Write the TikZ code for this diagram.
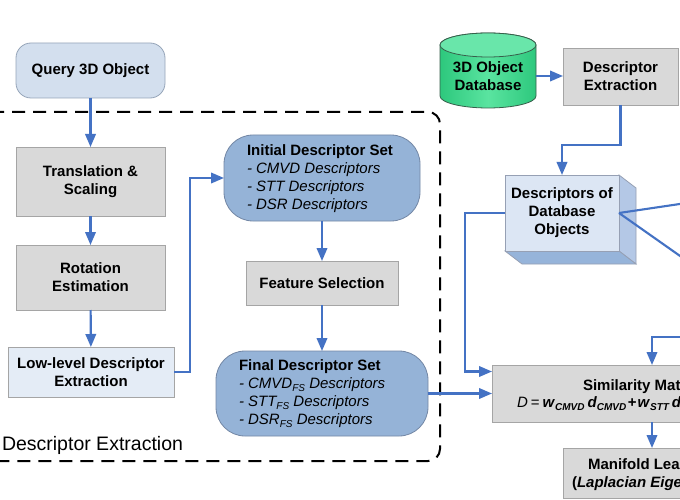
\documentclass[tikz,border=0pt]{standalone}
\usepackage{fontspec}
\setmainfont{Liberation Sans}
\usetikzlibrary{arrows.meta}
\newcommand\fsub[1]{\raisebox{-0.35ex}{\fontsize{10}{10}\selectfont #1}}
\definecolor{arrowblue}{RGB}{68,114,196}
\definecolor{grayfill}{RGB}{217,217,217}
\definecolor{grayline}{RGB}{165,165,165}
\definecolor{qfill}{RGB}{211,223,238}
\definecolor{qline}{RGB}{150,165,185}
\definecolor{llfill}{RGB}{228,236,246}
\definecolor{setfill}{RGB}{149,179,215}
\definecolor{setline}{RGB}{115,135,165}
\definecolor{dbfront}{RGB}{220,230,244}
\definecolor{dbside}{RGB}{180,200,230}
\definecolor{dbbottom}{RGB}{150,180,218}
\definecolor{dbline}{RGB}{150,160,180}
\definecolor{cyldark}{RGB}{45,200,125}
\definecolor{cyllight}{RGB}{90,228,160}
\definecolor{cyltop}{RGB}{105,230,170}
\definecolor{cylline}{RGB}{55,95,75}
\begin{document}
\begin{tikzpicture}[x=1pt,y=-1pt,
  every node/.style={inner sep=0pt, outer sep=0pt},
  bfont/.style={font=\bfseries\fontsize{15}{18}\selectfont},
  graybox/.style={draw=grayline, fill=grayfill, line width=0.8pt, align=center, bfont},
  qbox/.style={draw=qline, fill=qfill, line width=0.8pt, rounded corners=15pt, align=center, bfont},
  llbox/.style={draw=grayline, fill=llfill, line width=0.8pt, align=center, bfont},
  setbox/.style={draw=setline, fill=setfill, line width=0.8pt, rounded corners=29pt},
  settext/.style={align=left, font=\fontsize{15}{18}\selectfont},
  dbface/.style={draw=dbline, line width=0.8pt},
  flow/.style={draw=arrowblue, line width=2.1pt, -{Triangle[length=13pt,width=10.5pt]}},
  plainline/.style={draw=arrowblue, line width=2.1pt},
  region/.style={draw=black, line width=2pt, dash pattern=on 13pt off 8pt, rounded corners=12pt}
]
\useasboundingbox (0,0) rectangle (680,500);
\clip (0,0) rectangle (680,500);
\fill[white] (0,0) rectangle (680,500);

% dashed region
\draw[region] (-30,112) -- (440,112) -- (440,461) -- (-30,461);

% left column
\node[qbox, minimum width=149pt, minimum height=55pt] (q) at (90.5,70.5) {Query 3D Object};
\node[graybox, minimum width=149pt, minimum height=69pt] (ts) at (90.5,181.5) {Translation \&\\Scaling};
\node[graybox, minimum width=149pt, minimum height=65pt] (rot) at (90.5,277.5) {Rotation\\Estimation};
\node[llbox, minimum width=166pt, minimum height=50pt] (ll) at (91,372) {Low-level Descriptor\\Extraction};

% middle column
\node[setbox, minimum width=196pt, minimum height=86pt] (init) at (322,178) {};
\node[settext, anchor=west] (inittxt) at (247,178.5) {\textbf{Initial Descriptor Set}\\\textit{- CMVD Descriptors}\\\textit{- STT Descriptors}\\\textit{- DSR Descriptors}};
\node[graybox, minimum width=152pt, minimum height=44pt] (fs) at (322,283) {Feature Selection};
\node[setbox, minimum width=212pt, minimum height=85pt] (final) at (322,393.5) {};
\node[settext, anchor=west] (finaltxt) at (239,393.5) {\textbf{Final Descriptor Set}\\\textit{- CMVD\fsub{FS} Descriptors}\\\textit{- STT\fsub{FS} Descriptors}\\\textit{- DSR\fsub{FS} Descriptors}};

\node[anchor=base west, font=\fontsize{19.5}{22}\selectfont] (lbl) at (2,450) {Descriptor Extraction};

% database cylinder
\path[draw=cylline, line width=0.8pt, left color=cyldark, right color=cyldark, middle color=cyllight]
  (440,45) -- (440,96) arc[start angle=180, end angle=360, x radius=48pt, y radius=12pt]
  -- (536,45) arc[start angle=0, end angle=180, x radius=48pt, y radius=12pt] -- cycle;
\draw[draw=cylline, line width=0.8pt, fill=cyltop] (488,45) ellipse[x radius=48pt, y radius=12pt];
\node[bfont, align=center, minimum width=96pt, minimum height=50pt] (cyl) at (488,76) {3D Object\\Database};

\node[graybox, minimum width=115pt, minimum height=57pt] (descx) at (620.5,76.5) {Descriptor\\Extraction};

% 3D box of database descriptors
\fill[dbside, dbface] (619,175) -- (636,188) -- (636,264) -- (619,251) -- cycle;
\fill[dbbottom, dbface] (505,251) -- (619,251) -- (636,264) -- (522,264) -- cycle;
\node[dbface, fill=dbfront, bfont, align=center, minimum width=114pt, minimum height=76pt] (dbo) at (562,213) {Descriptors of\\Database\\Objects};

% right column (cut by the frame)
\node[graybox, minimum width=320pt, minimum height=57pt] (sim) at (652,393.5) {};
\node[anchor=base west, bfont] (simt) at (583,390) {Similarity Mat};
\node[anchor=base west, font=\fontsize{15}{18}\selectfont] (simf) at (517,407.5) {\textit{D}\kern3pt=\kern3pt\textbf{\textit{w}}\fsub{\bfseries\itshape CMVD}\kern3pt\textbf{\textit{d}}\fsub{\bfseries\itshape CMVD}\kern1.5pt\textbf{+}\kern1pt\textbf{\textit{w}}\fsub{\bfseries\itshape STT}\kern3pt\textbf{\textit{d}}};
\node[graybox, minimum width=178pt, minimum height=50pt] (man) at (652,473) {};
\node[anchor=base west, bfont] (mant) at (588,469.5) {Manifold Lea};
\node[anchor=base west, bfont] (manl) at (572,487.5) {(\textit{Laplacian Eige}};

\coordinate (offA) at (700,201);
\coordinate (offB) at (700,270);
\coordinate (offC) at (700,337);

% connectors
\draw[flow] (q) -- (ts);
\draw[flow] (ts) -- (rot);
\draw[flow] (rot) -- (ll);
\draw[flow] (ll.east) -- ++(16,0) |- (init.west);
\draw[flow] (init) -- (fs);
\draw[flow] (fs) -- (final);
\draw[flow] (final.east) -- (final.east -| sim.west);
\draw[flow] (cyl.east) -- (cyl.east -| descx.west);
\draw[flow] (descx.south) -- ++(0,40) -| (dbo.north);
\draw[flow] (dbo.west) -- ++(-40,0) |- ([yshift=22pt]sim.west);
\draw[plainline] (dbo.east) -- (offA);
\draw[plainline] (dbo.east) -- (offB);
\draw[flow] (offC) -| (sim.north);
\draw[flow] (sim.south) -- (man.north);
\end{tikzpicture}
\end{document}
